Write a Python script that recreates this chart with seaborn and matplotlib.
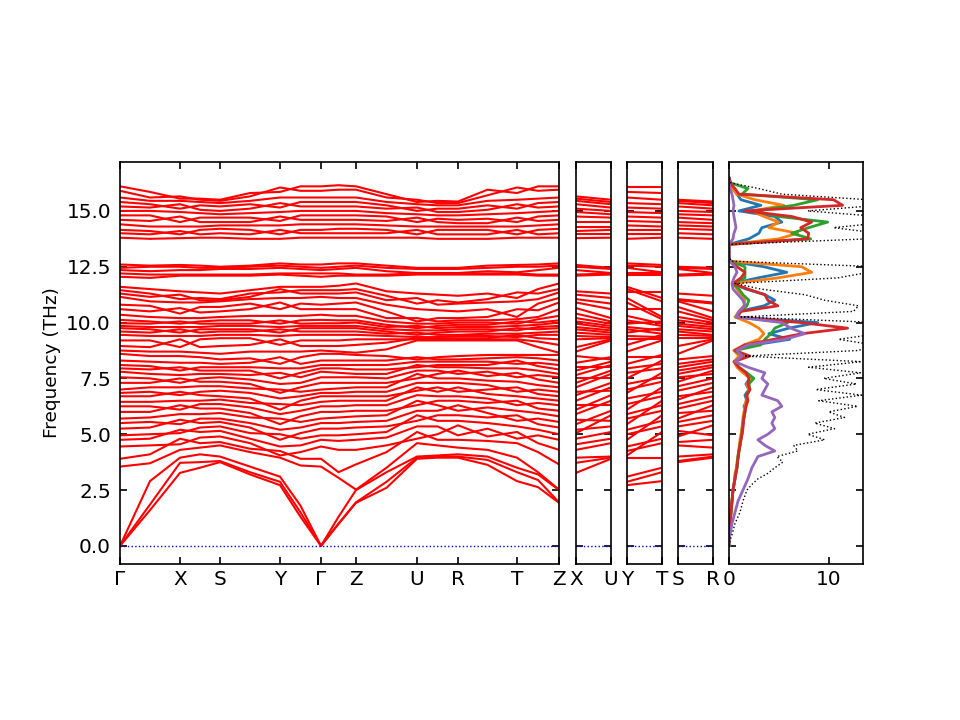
import numpy as np
import pandas as pd
import matplotlib
matplotlib.use("Agg")
import matplotlib.pyplot as plt
import seaborn as sns

# band path: labels and segment lengths (reciprocal distance)
main_labels = ["Γ", "X", "S", "Y", "Γ", "Z", "U", "R", "T", "Z"]
seg_lengths = [0.60, 0.40, 0.60, 0.41, 0.35, 0.61, 0.41, 0.59, 0.42]
side_labels = [("X", "U"), ("Y", "T"), ("S", "R")]
side_length = 0.35

# frequencies (THz) at the high-symmetry points, one entry per band
# groups: 3 acoustic | 21 low optical | 16 middle | 5 near 12.3 | 12 top
freq_G = [0, 0, 0,
          3.55, 3.9, 4.45, 4.75, 4.95, 5.25, 5.5, 5.7, 6.0, 6.25, 6.45, 6.7, 6.85, 7.0, 7.3, 7.55, 7.8, 7.95, 8.1, 8.3, 8.6,
          8.75, 8.95, 9.2, 9.45, 9.6, 9.75, 9.85, 9.97, 10.12, 10.35, 10.6, 10.8, 11.15, 11.3, 11.45, 11.6,
          12.05, 12.2, 12.35, 12.45, 12.6,
          13.8, 14.0, 14.15, 14.4, 14.6, 14.8, 15.0, 15.2, 15.4, 15.6, 15.9, 16.1]
freq_X = [3.27, 3.72, 3.95,
          4.3, 4.8, 4.55, 5.2, 5.05, 5.65, 5.45, 5.9, 6.3, 6.1, 6.5, 6.9, 6.75, 7.1, 7.5, 7.3, 7.65, 8.0, 7.85, 8.2, 8.5,
          8.7, 9.25, 8.9, 9.4, 9.7, 9.55, 9.8, 10.05, 9.95, 10.2, 10.65, 10.4, 10.9, 11.25, 11.05, 11.4,
          12.1, 12.15, 12.35, 12.5, 12.58,
          13.78, 14.1, 13.95, 14.3, 14.75, 14.5, 14.95, 15.3, 15.1, 15.45, 15.65, 15.55]
freq_S = [3.75, 3.8, 4.0,
          4.5, 4.65, 4.9, 5.15, 5.35, 5.55, 5.7, 5.95, 6.15, 6.35, 6.55, 6.7, 6.95, 7.15, 7.35, 7.55, 7.7, 7.85, 8.0, 8.15, 8.35,
          8.6, 8.95, 9.3, 9.45, 9.6, 9.7, 9.85, 9.95, 10.1, 10.25, 10.5, 10.7, 10.95, 11.0, 11.05, 11.3,
          12.1, 12.15, 12.4, 12.45, 12.5,
          13.8, 14.0, 14.2, 14.35, 14.5, 14.7, 14.85, 15.0, 15.2, 15.35, 15.45, 15.5]
freq_Y = [2.72, 2.87, 3.1,
          3.95, 4.25, 4.05, 4.45, 5.0, 4.75, 5.2, 5.7, 5.45, 5.9, 6.35, 6.1, 6.6, 7.0, 6.85, 7.25, 7.75, 7.5, 7.95, 8.45, 8.15,
          8.7, 9.25, 9.0, 9.4, 9.7, 9.55, 9.8, 10.1, 9.95, 10.3, 10.9, 10.6, 11.1, 11.5, 11.35, 11.6,
          12.15, 12.2, 12.45, 12.55, 12.65,
          13.75, 14.15, 13.95, 14.35, 14.75, 14.55, 14.95, 15.35, 15.15, 15.6, 16.05, 15.85]
freq_Z = [1.93, 1.95, 2.5,
          2.52, 3.65, 4.3, 4.75, 5.0, 5.3, 5.55, 5.8, 6.05, 6.3, 6.5, 6.7, 6.9, 7.1, 7.3, 7.55, 7.7, 7.9, 8.1, 8.3, 8.55,
          8.65, 9.0, 9.25, 9.45, 9.6, 9.75, 9.85, 10.0, 10.1, 10.3, 10.6, 10.9, 11.1, 11.35, 11.5, 11.75,
          12.1, 12.15, 12.45, 12.55, 12.65,
          13.8, 14.0, 14.2, 14.4, 14.6, 14.8, 15.0, 15.2, 15.4, 15.6, 15.95, 16.1]
freq_U = [3.9, 3.95, 4.0,
          4.6, 5.1, 4.8, 5.35, 5.85, 5.6, 6.05, 6.5, 6.3, 6.75, 7.1, 6.95, 7.3, 7.7, 7.5, 7.85, 8.1, 8.0, 8.25, 8.45, 8.35,
          9.2, 9.3, 9.25, 9.35, 9.55, 9.45, 9.65, 9.85, 9.75, 9.95, 10.2, 10.05, 10.6, 11.1, 10.85, 11.3,
          12.15, 12.2, 12.22, 12.4, 12.45,
          13.8, 14.15, 13.95, 14.3, 14.7, 14.5, 14.85, 15.15, 15.0, 15.3, 15.5, 15.4]
freq_R = [3.95, 4.0, 4.1,
          4.4, 4.75, 5.4, 4.95, 5.6, 5.85, 6.3, 6.05, 6.5, 6.7, 7.1, 6.9, 7.3, 7.5, 7.85, 7.7, 8.0, 8.1, 8.25, 8.35, 8.5,
          9.2, 9.25, 9.3, 9.4, 9.45, 9.6, 9.7, 9.8, 9.9, 10.0, 10.1, 10.2, 10.5, 10.85, 10.9, 11.2,
          12.15, 12.2, 12.22, 12.4, 12.45,
          13.75, 13.95, 14.15, 14.3, 14.45, 14.6, 14.8, 14.95, 15.1, 15.25, 15.35, 15.42]
freq_T = [2.9, 3.3, 3.5,
          3.95, 4.6, 5.1, 4.8, 5.35, 5.85, 5.6, 6.05, 6.5, 6.3, 6.7, 7.1, 6.9, 7.35, 7.75, 7.55, 7.95, 8.3, 8.15, 8.45, 8.55,
          9.2, 9.25, 9.45, 9.35, 9.5, 9.75, 9.65, 9.85, 10.05, 9.95, 10.15, 10.6, 10.25, 10.95, 11.35, 11.1,
          12.15, 12.2, 12.25, 12.5, 12.58,
          13.8, 14.15, 13.95, 14.3, 14.7, 14.5, 14.9, 15.3, 15.1, 15.5, 16.05, 15.8]

# frequencies half way along each segment of the main path
mid_GX = [1.6, 1.85, 2.9,
          3.7, 4.1, 4.5, 4.8, 5.0, 5.3, 5.55, 5.75, 6.0, 6.25, 6.45, 6.7, 6.9, 7.1, 7.3, 7.5, 7.7, 7.9, 8.05, 8.25, 8.5,
          8.7, 8.9, 9.2, 9.4, 9.55, 9.7, 9.8, 9.95, 10.05, 10.25, 10.5, 10.75, 10.95, 11.15, 11.3, 11.5,
          12.0, 12.15, 12.3, 12.5, 12.55,
          13.75, 13.95, 14.1, 14.3, 14.55, 14.8, 15.0, 15.15, 15.3, 15.45, 15.6, 15.85]
mid_XS = [3.5, 3.75, 4.1,
          4.4, 4.6, 4.85, 5.1, 5.3, 5.5, 5.7, 5.9, 6.15, 6.35, 6.5, 6.75, 6.9, 7.15, 7.35, 7.5, 7.7, 7.85, 8.0, 8.2, 8.45,
          8.65, 8.9, 9.25, 9.4, 9.55, 9.7, 9.8, 9.95, 10.05, 10.2, 10.45, 10.7, 10.9, 11.0, 11.1, 11.35,
          12.1, 12.15, 12.35, 12.45, 12.55,
          13.8, 13.95, 14.15, 14.3, 14.5, 14.7, 14.9, 15.05, 15.25, 15.4, 15.5, 15.55]
mid_SY = [3.2, 3.3, 3.55,
          4.2, 4.35, 4.6, 4.8, 5.05, 5.3, 5.5, 5.75, 5.95, 6.2, 6.4, 6.6, 6.85, 7.05, 7.25, 7.45, 7.65, 7.85, 8.0, 8.2, 8.4,
          8.7, 9.0, 9.3, 9.45, 9.6, 9.7, 9.85, 9.95, 10.1, 10.3, 10.6, 10.85, 11.05, 11.15, 11.3, 11.45,
          12.1, 12.15, 12.4, 12.5, 12.55,
          13.75, 13.95, 14.15, 14.35, 14.5, 14.7, 14.9, 15.1, 15.3, 15.45, 15.65, 15.8]
mid_YG = [1.3, 1.5, 1.8,
          3.6, 3.9, 4.2, 4.5, 4.8, 5.05, 5.3, 5.55, 5.8, 6.05, 6.3, 6.5, 6.7, 6.9, 7.1, 7.3, 7.55, 7.75, 7.95, 8.15, 8.45,
          8.7, 8.95, 9.2, 9.45, 9.6, 9.75, 9.85, 9.95, 10.1, 10.3, 10.6, 10.85, 11.1, 11.3, 11.45, 11.6,
          12.1, 12.2, 12.4, 12.5, 12.6,
          13.8, 14.0, 14.15, 14.4, 14.6, 14.8, 15.0, 15.2, 15.4, 15.6, 15.9, 16.1]
mid_GZ = [0.98, 1.0, 1.3,
          3.05, 3.3, 4.3, 4.7, 4.95, 5.25, 5.5, 5.75, 6.0, 6.25, 6.5, 6.7, 6.85, 7.05, 7.3, 7.55, 7.75, 7.95, 8.1, 8.3, 8.6,
          8.7, 8.95, 9.2, 9.45, 9.6, 9.75, 9.85, 9.97, 10.1, 10.3, 10.6, 10.85, 11.1, 11.3, 11.45, 11.65,
          12.1, 12.2, 12.4, 12.5, 12.65,
          13.8, 14.0, 14.2, 14.4, 14.6, 14.8, 15.0, 15.2, 15.4, 15.6, 15.95, 16.15]
mid_ZU = [2.6, 2.87, 3.3,
          3.5, 4.2, 4.5, 4.85, 5.1, 5.35, 5.6, 5.85, 6.05, 6.3, 6.5, 6.7, 6.9, 7.1, 7.3, 7.5, 7.7, 7.9, 8.1, 8.3, 8.5,
          8.8, 9.1, 9.25, 9.4, 9.5, 9.6, 9.7, 9.8, 9.9, 10.05, 10.2, 10.5, 10.8, 11.0, 11.2, 11.4,
          12.1, 12.15, 12.3, 12.45, 12.55,
          13.8, 14.0, 14.15, 14.35, 14.55, 14.75, 14.9, 15.1, 15.25, 15.4, 15.6, 15.75]
mid_UR = [3.95, 4.0, 4.05,
          4.5, 4.75, 5.0, 5.35, 5.6, 5.85, 6.05, 6.3, 6.5, 6.7, 6.9, 7.1, 7.3, 7.5, 7.7, 7.85, 8.0, 8.1, 8.25, 8.35, 8.45,
          9.2, 9.25, 9.3, 9.35, 9.45, 9.55, 9.65, 9.75, 9.85, 9.95, 10.05, 10.2, 10.55, 10.8, 11.0, 11.25,
          12.15, 12.2, 12.22, 12.4, 12.45,
          13.75, 13.95, 14.15, 14.3, 14.5, 14.65, 14.8, 14.95, 15.1, 15.25, 15.35, 15.45]
mid_RT = [3.63, 3.85, 4.0,
          4.3, 4.7, 4.9, 5.25, 5.5, 5.75, 5.95, 6.2, 6.4, 6.6, 6.8, 7.0, 7.2, 7.4, 7.6, 7.8, 7.95, 8.1, 8.25, 8.4, 8.55,
          9.2, 9.25, 9.3, 9.4, 9.5, 9.6, 9.7, 9.8, 9.9, 10.0, 10.1, 10.25, 10.6, 10.9, 11.05, 11.3,
          12.15, 12.2, 12.3, 12.45, 12.55,
          13.75, 13.95, 14.15, 14.3, 14.45, 14.65, 14.85, 15.05, 15.25, 15.45, 15.7, 15.95]
mid_TZ = [2.63, 2.95, 3.2,
          3.3, 4.2, 4.6, 4.95, 5.2, 5.45, 5.7, 5.95, 6.15, 6.4, 6.6, 6.8, 7.0, 7.2, 7.45, 7.65, 7.85, 8.05, 8.2, 8.4, 8.55,
          8.9, 9.15, 9.3, 9.45, 9.55, 9.7, 9.8, 9.9, 10.0, 10.15, 10.25, 10.55, 10.85, 11.05, 11.3, 11.5,
          12.1, 12.15, 12.35, 12.5, 12.6,
          13.8, 13.95, 14.15, 14.35, 14.55, 14.75, 14.95, 15.15, 15.35, 15.55, 15.9, 16.1]

# density of states, sampled every 0.25 THz from 0 to 16.5
dos_freq = np.arange(0, 16.51, 0.25)
dos_total = [0, 0.1, 0.3, 0.45, 0.6, 0.85, 1.1, 1.25, 1.4, 1.6,
             1.8, 2.3, 2.9, 3.9, 4.6, 5.4, 4.8, 6.9, 6.5, 9.6,
             7.9, 10.6, 8.6, 11.6, 10.0, 12.9, 9.0, 13.3, 8.7, 12.8,
             9.5, 13.2, 8.0, 13.3, 1.5, 13.0, 14.5, 11.0, 15.0, 16.0,
             15.0, 1.2, 12.5, 13.0, 9.6, 7.6, 3.2, 0.6, 10.9, 14.0,
             15.0, 0.2, 0, 0, 0, 14.0, 15.0, 10.5, 16.0, 15.0,
             7.9, 15.0, 14.0, 5.3, 3.0, 0.2, 0]
dos_p1 = [0, 0, 0, 0.05, 0.1, 0.15, 0.2, 0.25, 0.3, 0.35,
          0.4, 0.5, 0.6, 0.65, 0.8, 0.85, 0.9, 1.0, 1.1, 1.15,
          1.3, 1.3, 1.4, 1.5, 1.6, 1.5, 1.8, 1.6, 2.0, 1.7,
          2.1, 1.5, 0.9, 0.6, 1.2, 0.5, 2.5, 6.1, 4.0, 6.0,
          8.9, 0.7, 1.0, 3.5, 4.6, 3.6, 1.7, 0.4, 2.9, 5.8,
          3.5, 0.1, 0, 0, 0, 2.0, 3.0, 3.3, 5.3, 4.6,
          1.0, 3.2, 1.2, 0.8, 0.4, 0.05, 0]
dos_p2 = [0, 0, 0, 0.05, 0.1, 0.15, 0.2, 0.25, 0.3, 0.35,
          0.4, 0.5, 0.55, 0.6, 0.75, 0.8, 0.9, 0.95, 1.05, 1.1,
          1.2, 1.3, 1.35, 1.4, 1.5, 1.6, 1.7, 1.8, 2.0, 1.8,
          2.2, 1.4, 0.8, 0.5, 1.0, 0.5, 1.5, 3.0, 3.5, 3.0,
          2.0, 0.6, 1.0, 1.5, 1.6, 1.2, 0.8, 0.4, 4.9, 8.3,
          7.3, 0.1, 0, 0, 0, 5.0, 6.9, 4.0, 5.0, 3.5,
          2.3, 5.5, 2.6, 0.8, 0.3, 0.05, 0]
dos_p3 = [0, 0, 0, 0.05, 0.1, 0.15, 0.2, 0.25, 0.3, 0.35,
          0.4, 0.5, 0.6, 0.7, 0.8, 0.85, 0.9, 1.0, 1.1, 1.2,
          1.3, 1.35, 1.4, 1.5, 1.6, 1.7, 1.8, 1.7, 2.1, 2.0,
          2.5, 1.8, 1.0, 0.6, 1.4, 0.6, 3.2, 3.6, 4.2, 4.6,
          5.9, 0.8, 1.2, 1.8, 2.0, 1.4, 1.0, 0.4, 1.6, 1.6,
          1.6, 0.1, 0, 0, 0, 8.2, 6.3, 8.0, 9.9, 5.0,
          2.6, 6.5, 8.9, 1.3, 1.9, 0.2, 0]
dos_p4 = [0, 0, 0, 0.05, 0.1, 0.15, 0.2, 0.25, 0.3, 0.35,
          0.4, 0.5, 0.6, 0.7, 0.8, 0.85, 0.95, 1.0, 1.1, 1.2,
          1.3, 1.4, 1.45, 1.5, 1.6, 1.7, 1.9, 1.8, 2.1, 1.9,
          2.0, 1.7, 1.0, 0.5, 2.1, 0.6, 1.6, 4.5, 7.3, 11.9,
          7.2, 0.8, 1.2, 4.9, 3.9, 3.6, 1.9, 0.4, 1.2, 1.6,
          0.8, 0.1, 0, 0, 0, 7.9, 8.0, 7.2, 8.3, 6.3,
          1.6, 11.4, 10.5, 1.0, 0.6, 0.1, 0]
dos_p5 = [0, 0, 0.1, 0.2, 0.3, 0.45, 0.6, 0.75, 0.9, 1.15,
          1.4, 1.65, 1.9, 2.1, 2.3, 2.6, 2.9, 4.6, 3.6, 2.9,
          3.9, 4.6, 4.3, 4.6, 4.3, 5.3, 4.9, 3.3, 3.6, 3.9,
          3.3, 3.6, 1.9, 0.6, 1.3, 0.8, 1.9, 5.6, 7.6, 6.2,
          5.3, 0.7, 1.0, 1.6, 1.4, 0.9, 0.4, 0.3, 0.5, 0.8,
          0.6, 0.05, 0, 0, 0, 0.4, 0.5, 0.7, 0.6, 0.5,
          0.4, 0.5, 0.4, 0.3, 0.1, 0, 0]
pdos_colors = ["tab:blue", "tab:orange", "tab:green", "tab:red", "tab:purple"]

sns.set_style("ticks")
plt.rcParams.update({
    "font.family": "DejaVu Sans",
    "font.size": 14.4,
    "axes.labelsize": 13.3,
    "xtick.labelsize": 14.4, "ytick.labelsize": 14.4,
    "text.color": "black", "axes.labelcolor": "black",
    "xtick.color": "black", "ytick.color": "black",
    "xtick.direction": "in", "ytick.direction": "in",
    "xtick.top": True, "ytick.right": True,
    "xtick.major.size": 5.25, "ytick.major.size": 5.25,
    "xtick.major.width": 1.2, "ytick.major.width": 1.2,
    "xtick.major.pad": 4.5, "ytick.major.pad": 6.5,
    "axes.linewidth": 1.2, "axes.edgecolor": "black",
})

nodes = {"Γ": freq_G, "X": freq_X, "S": freq_S, "Y": freq_Y,
         "Z": freq_Z, "U": freq_U, "R": freq_R, "T": freq_T}
mids = [mid_GX, mid_XS, mid_SY, mid_YG, mid_GZ, mid_ZU, mid_UR, mid_RT, mid_TZ]

# long table of the main path
rows = []
k0 = 0.0
kticks = [0.0]
for i, L in enumerate(seg_lengths):
    a = nodes[main_labels[i]]
    b = nodes[main_labels[i + 1]]
    m = mids[i]
    for j in range(len(a)):
        rows += [(k0, a[j], j), (k0 + L / 2, m[j], j), (k0 + L, b[j], j)]
    k0 += L
    kticks.append(k0)
df_main = pd.DataFrame(rows, columns=["k", "freq", "band"])

fig = plt.figure(figsize=(9.6, 7.2), dpi=100)
bottom, height = 0.2167, 0.5583
ylim = (-0.81, 17.19)
yticks = np.arange(0, 15.1, 2.5)

ax = fig.add_axes([0.125, bottom, 0.4573, height])
sns.lineplot(data=df_main, x="k", y="freq", units="band", estimator=None,
             sort=False, color="red", lw=1.5, ax=ax, legend=False)
ax.axhline(0, color="blue", ls=":", lw=1)
ax.set_xlim(0, kticks[-1])
ax.set_ylim(*ylim)
ax.set_xticks(kticks)
ax.set_xticklabels(main_labels)
ax.set_yticks(yticks)
ax.set_xlabel("")
ax.set_ylabel("Frequency (THz)")

lefts = [0.6, 0.6531, 0.70625]
for left, (p, q) in zip(lefts, side_labels):
    sax = fig.add_axes([left, bottom, 0.03646, height])
    a, b = nodes[p], nodes[q]
    srows = []
    for j in range(len(a)):
        srows += [(0.0, a[j], j), (side_length, b[j], j)]
    df_side = pd.DataFrame(srows, columns=["k", "freq", "band"])
    sns.lineplot(data=df_side, x="k", y="freq", units="band", estimator=None,
                 sort=False, color="red", lw=1.5, ax=sax, legend=False)
    sax.axhline(0, color="blue", ls=":", lw=1)
    sax.set_xlim(0, side_length)
    sax.set_ylim(*ylim)
    sax.set_xticks([0, side_length])
    sax.set_xticklabels([p, q])
    sax.set_yticks(yticks)
    sax.set_yticklabels([])
    sax.set_xlabel("")
    sax.set_ylabel("")

dax = fig.add_axes([0.759375, bottom, 0.13958, height])
for vals, col in zip([dos_p1, dos_p2, dos_p3, dos_p4, dos_p5], pdos_colors):
    sns.lineplot(x=vals, y=dos_freq, sort=False, estimator=None,
                 color=col, lw=2, ax=dax)
sns.lineplot(x=dos_total, y=dos_freq, sort=False, estimator=None,
             color="black", ls=":", lw=1, ax=dax)
dax.set_xlim(0, 13.45)
dax.set_ylim(*ylim)
dax.set_xticks([0, 10])
dax.set_yticks(yticks)
dax.set_yticklabels([])
dax.set_xlabel("")
dax.set_ylabel("")

fig.savefig("out.png", dpi=100)
